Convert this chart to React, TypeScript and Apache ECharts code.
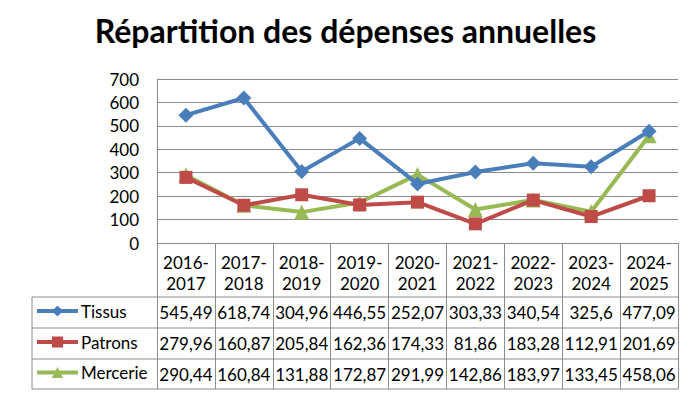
import React, { useEffect, useRef } from "react";
import * as echarts from "echarts";

const title = "Répartition des dépenses annuelles";
const categories = ["2016-2017", "2017-2018", "2018-2019", "2019-2020", "2020-2021", "2021-2022", "2022-2023", "2023-2024", "2024-2025"];
const seriesNames = ["Tissus", "Patrons", "Mercerie"];
const tissus = [545.49, 618.74, 304.96, 446.55, 252.07, 303.33, 340.54, 325.6, 477.09];
const patrons = [279.96, 160.87, 205.84, 162.36, 174.33, 81.86, 183.28, 112.91, 201.69];
const mercerie = [290.44, 160.84, 131.88, 172.87, 291.99, 142.86, 183.97, 133.45, 458.06];
const yTicks = [0, 100, 200, 300, 400, 500, 600, 700];

const colors = ["#4A7EBB", "#BE4B48", "#98B954"];
const symbols = ["diamond", "rect", "triangle"];
const symbolSizes = [15, 13, 15];

const W = 691;
const H = 396;
const FONT = "Lato, 'Liberation Sans', sans-serif";
const GRID_LEFT = 157;
const GRID_RIGHT_X = 678;
const GRID_TOP = 79;
const AXIS_Y = 243;
const TABLE_LEFT = 32;
const ROW_YS = [297, 328, 359, 389];
const LINE_COLOR = "#8C8C8C";

const fmt = (v: number) => String(v).replace(".", ",");

export default function App() {
  const ref = useRef<HTMLDivElement>(null);
  useEffect(() => {
    if (!ref.current) return;
    const chart = echarts.init(ref.current, undefined, { renderer: "svg" });
    const allData = [tissus, patrons, mercerie];
    const colW = (GRID_RIGHT_X - GRID_LEFT) / categories.length;

    const graphics: any[] = [];
    ROW_YS.forEach((y) => {
      graphics.push({
        type: "line",
        shape: { x1: TABLE_LEFT, y1: y, x2: GRID_RIGHT_X, y2: y },
        style: { stroke: LINE_COLOR, lineWidth: 1 },
        silent: true,
      });
    });
    graphics.push({
      type: "line",
      shape: { x1: TABLE_LEFT, y1: ROW_YS[0], x2: TABLE_LEFT, y2: ROW_YS[3] },
      style: { stroke: LINE_COLOR, lineWidth: 1 },
      silent: true,
    });
    allData.forEach((arr, r) => {
      const yc = (ROW_YS[r] + ROW_YS[r + 1]) / 2;
      arr.forEach((v, i) => {
        graphics.push({
          type: "text",
          x: GRID_LEFT + (i + 0.5) * colW,
          y: yc,
          style: {
            text: fmt(v),
            fill: "#000",
            font: `17px ${FONT}`,
            align: "center",
            verticalAlign: "middle",
          },
          silent: true,
        });
      });
    });

    const legends = seriesNames.map((name, r) => ({
      data: [name],
      left: 35,
      top: (ROW_YS[r] + ROW_YS[r + 1]) / 2 - 10,
      padding: 0,
      itemWidth: 41,
      itemHeight: 14,
      itemGap: 4,
      lineStyle: { width: 4 },
      textStyle: { fontSize: 17, color: "#000", fontFamily: FONT, padding: [0, 0, 0, -2] },
      selectedMode: false,
    }));

    chart.setOption({
      animation: false,
      backgroundColor: "#fff",
      title: {
        text: title,
        left: "center",
        top: 9,
        textStyle: { fontSize: 32, fontWeight: "bold", color: "#000", fontFamily: FONT },
      },
      legend: legends,
      grid: {
        left: GRID_LEFT,
        right: W - GRID_RIGHT_X,
        top: GRID_TOP,
        bottom: H - AXIS_Y,
        containLabel: false,
      },
      xAxis: {
        type: "category",
        data: categories,
        boundaryGap: true,
        axisLine: { show: true, lineStyle: { color: LINE_COLOR, width: 1 } },
        axisTick: { show: true, length: ROW_YS[3] - AXIS_Y, interval: 0, lineStyle: { color: LINE_COLOR } },
        axisLabel: {
          interval: 0,
          margin: 9,
          fontSize: 17,
          lineHeight: 21,
          color: "#000",
          fontFamily: FONT,
          formatter: (v: string) => v.replace("-", "-\n"),
        },
      },
      yAxis: {
        type: "value",
        min: yTicks[0],
        max: yTicks[yTicks.length - 1],
        interval: 100,
        axisLine: { show: true, lineStyle: { color: LINE_COLOR, width: 1 } },
        axisTick: { show: false },
        splitLine: { show: true, lineStyle: { color: LINE_COLOR, width: 1 } },
        axisLabel: { fontSize: 17, color: "#000", fontFamily: FONT, margin: 18 },
      },
      series: seriesNames.map((name, i) => ({
        name,
        type: "line",
        data: allData[i],
        symbol: symbols[i],
        symbolSize: symbolSizes[i],
        itemStyle: { color: colors[i] },
        lineStyle: { color: colors[i], width: 4 },
        z: 3 - i,
      })),
      graphic: graphics,
    });
    return () => chart.dispose();
  }, []);
  return <div ref={ref} style={{ width: W, height: H, position: "absolute", left: 0, top: 0 }} />;
}
